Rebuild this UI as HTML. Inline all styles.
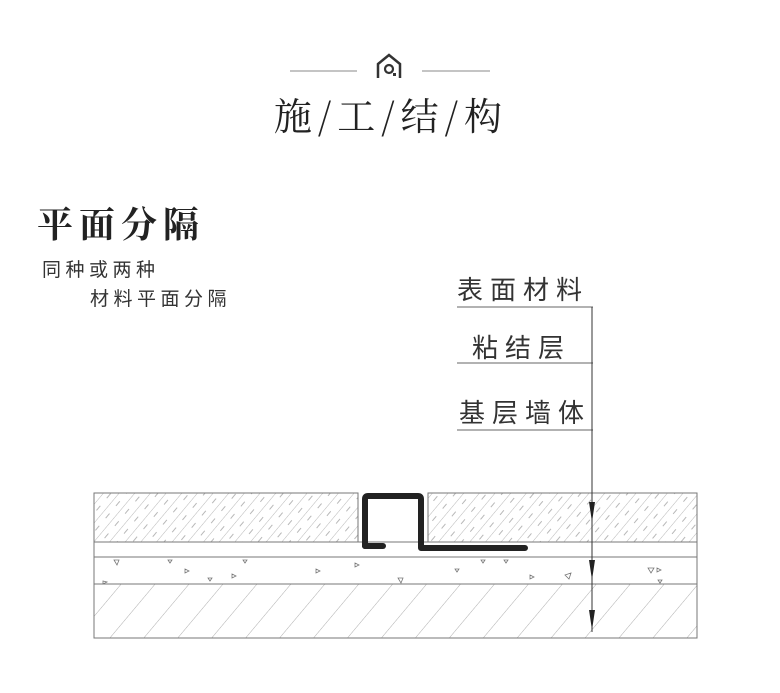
<!DOCTYPE html>
<html><head><meta charset="utf-8"><style>
body{margin:0;background:#fff;}
svg{display:block}
</style></head><body>
<svg width="780" height="693" viewBox="0 0 780 693" xmlns="http://www.w3.org/2000/svg">
<defs>
<pattern id="h1" patternUnits="userSpaceOnUse" width="12" height="16" patternTransform="rotate(40)">
<line x1="0" y1="0" x2="0" y2="16" stroke="#999" stroke-width="0.7"/>
<line x1="6" y1="3" x2="6" y2="9" stroke="#999" stroke-width="0.7"/>
</pattern>
<pattern id="h2" patternUnits="userSpaceOnUse" width="26" height="26" patternTransform="rotate(40)">
<line x1="0" y1="0" x2="0" y2="26" stroke="#999" stroke-width="0.8"/>
</pattern>
</defs>
<line x1="290" y1="71" x2="357" y2="71" stroke="#888" stroke-width="1"/>
<line x1="422" y1="71" x2="490" y2="71" stroke="#888" stroke-width="1"/>
<path d="M378 78 V64 L389 55 L400 64 V78" fill="none" stroke="#333" stroke-width="2.5"/>
<circle cx="389" cy="69" r="4" fill="none" stroke="#333" stroke-width="2.2"/>
<rect x="393" y="73" width="3" height="3" fill="#333"/>
<text x="391" y="130" text-anchor="middle" font-family="'Noto Serif CJK SC',serif" font-size="38" fill="#222" letter-spacing="6">施/工/结/构</text>
<text x="37" y="237" font-family="'Noto Serif CJK SC',serif" font-size="36" font-weight="bold" fill="#222" letter-spacing="6">平面分隔</text>
<text x="42" y="276" font-family="'Liberation Sans','Noto Sans CJK SC',sans-serif" font-size="19" fill="#333" letter-spacing="4.5">同种或两种</text>
<text x="90" y="305" font-family="'Liberation Sans','Noto Sans CJK SC',sans-serif" font-size="19" fill="#333" letter-spacing="4.5">材料平面分隔</text>
<g font-family="'Liberation Sans','Noto Sans CJK SC',sans-serif" font-size="26" fill="#333" letter-spacing="7">
<text x="457" y="299">表面材料</text>
<text x="472" y="357">粘结层</text>
<text x="459" y="422">基层墙体</text>
</g>
<g stroke="#666" stroke-width="1">
<line x1="457" y1="307" x2="593" y2="307"/>
<line x1="457" y1="363" x2="593" y2="363"/>
<line x1="457" y1="430" x2="593" y2="430"/>
</g>
<rect x="94" y="493" width="264" height="49" fill="url(#h1)" stroke="#777"/>
<rect x="428" y="493" width="269" height="49" fill="url(#h1)" stroke="#777"/>
<rect x="94" y="542" width="603" height="15" fill="none" stroke="#777"/>
<rect x="94" y="557" width="603" height="27" fill="none" stroke="#777"/>
<rect x="94" y="584" width="603" height="54" fill="url(#h2)" stroke="#777"/>
<g fill="none" stroke="#777" stroke-width="0.8">
<path d="M114 560 l5 0 l-2 5z M168 560 l4 0 l-2 3z M185 569 l4 2 l-4 2z M208 578 l4 0 l-2 3z M232 574 l4 2 l-4 2z M243 560 l4 0 l-2 3z M103 581 l4 1 l-4 2z M316 569 l4 2 l-4 2z M355 563 l4 2 l-4 2z M398 578 l5 0 l-2 5z M455 569 l4 0 l-2 3z M481 560 l4 0 l-2 3z M504 560 l4 0 l-2 3z M530 575 l4 2 l-4 2z M565 575 l6 -2 l-2 6z M648 568 l6 0 l-3 5z M657 568 l4 2 l-4 2z M658 580 l4 0 l-2 3z"/>
</g>
<path d="M365 546 V499 Q365 496 368 496 H418 Q421 496 421 499 V548 H525" fill="none" stroke="#222" stroke-width="6" stroke-linecap="round" stroke-linejoin="round"/>
<path d="M365 546 H383" fill="none" stroke="#222" stroke-width="6" stroke-linecap="round"/>
<line x1="592" y1="307" x2="592" y2="632" stroke="#333" stroke-width="1"/>
<path d="M589 502 L595 502 L592 522Z M589 560 L595 560 L592 580Z M589 610 L595 610 L592 630Z" fill="#222"/>
</svg>
</body></html>
